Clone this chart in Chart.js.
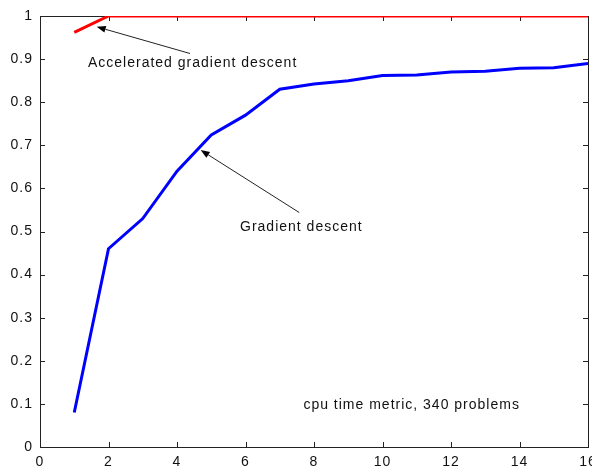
<!DOCTYPE html>
<html>
<head>
<meta charset="utf-8">
<script src="https://cdn.jsdelivr.net/npm/chart.js@4.4.0/dist/chart.umd.min.js"></script>
<style>
  html, body { margin: 0; padding: 0; background: #fff; }
  canvas { display: block; }
</style>
</head>
<body>
<canvas id="perfChart" width="592" height="470"></canvas>
<script>
// performance profile data
const gdX = [1, 2, 3, 4, 5, 6, 7, 8, 9, 10, 11, 12, 13, 14, 15, 16];
const gdY = [0.08, 0.46, 0.53, 0.64, 0.724, 0.77, 0.83, 0.842, 0.85, 0.862, 0.863, 0.87, 0.872, 0.879, 0.88, 0.89];
const agdX = [1, 2, 16];
const agdY = [0.962, 1, 1];

const xTicks = [0, 2, 4, 6, 8, 10, 12, 14, 16];
const yTicks = [0, 0.1, 0.2, 0.3, 0.4, 0.5, 0.6, 0.7, 0.8, 0.9, 1];
const yTickLabels = ["0", "0.1", "0.2", "0.3", "0.4", "0.5", "0.6", "0.7", "0.8", "0.9", "1"];

const labelFont = '14px "Liberation Sans", Arial, sans-serif';

// text + arrows, in data units
const notes = [
  { text: "Accelerated gradient descent", x: 1.40, y: 0.891, from: [4.38, 0.913], to: [1.655, 0.975] },
  { text: "Gradient descent", x: 5.84, y: 0.511, from: [7.57, 0.544], to: [4.69, 0.689] },
  { text: "cpu time metric, 340 problems", x: 7.69, y: 0.0975 }
];

function pts(xs, ys) {
  return xs.map((x, i) => ({ x: x, y: ys[i] }));
}

const matlabBox = {
  id: 'matlabBox',
  beforeDraw(chart) {
    chart.ctx.letterSpacing = '1px';
  },
  beforeDatasetsDraw(chart) {
    const { ctx, chartArea: a, scales } = chart;
    ctx.save();
    ctx.strokeStyle = '#222';
    ctx.lineWidth = 1;
    ctx.strokeRect(a.left + 0.5, a.top + 0.5, a.right - a.left, a.bottom - a.top);
    ctx.beginPath();
    xTicks.forEach(v => {
      const px = Math.round(scales.x.getPixelForValue(v)) + 0.5;
      ctx.moveTo(px, a.bottom); ctx.lineTo(px, a.bottom - 5);
      ctx.moveTo(px, a.top); ctx.lineTo(px, a.top + 5);
    });
    yTicks.forEach(v => {
      const py = Math.round(scales.y.getPixelForValue(v)) + 0.5;
      ctx.moveTo(a.left, py); ctx.lineTo(a.left + 5, py);
      ctx.moveTo(a.right, py); ctx.lineTo(a.right - 5, py);
    });
    ctx.stroke();
    ctx.restore();
  },
  afterDatasetsDraw(chart) {
    const { ctx, scales } = chart;
    const sx = v => scales.x.getPixelForValue(v);
    const sy = v => scales.y.getPixelForValue(v);
    ctx.save();
    ctx.font = labelFont;
    ctx.fillStyle = '#111';
    ctx.textBaseline = 'middle';
    ctx.textAlign = 'left';
    notes.forEach(n => {
      ctx.fillText(n.text, sx(n.x), sy(n.y));
      if (!n.from) return;
      const x0 = sx(n.from[0]), y0 = sy(n.from[1]);
      const x1 = sx(n.to[0]), y1 = sy(n.to[1]);
      const ang = Math.atan2(y1 - y0, x1 - x0);
      const len = 9, half = 3.5;
      const bx = x1 - len * Math.cos(ang), by = y1 - len * Math.sin(ang);
      ctx.strokeStyle = '#222';
      ctx.lineWidth = 1;
      ctx.beginPath();
      ctx.moveTo(x0, y0);
      ctx.lineTo(bx, by);
      ctx.stroke();
      ctx.fillStyle = '#000';
      ctx.beginPath();
      ctx.moveTo(x1, y1);
      ctx.lineTo(bx + half * Math.sin(ang), by - half * Math.cos(ang));
      ctx.lineTo(bx - half * Math.sin(ang), by + half * Math.cos(ang));
      ctx.closePath();
      ctx.fill();
      ctx.fillStyle = '#111';
    });
    ctx.restore();
  }
};

new Chart(document.getElementById('perfChart').getContext('2d'), {
  type: 'line',
  data: {
    datasets: [
      {
        label: 'Accelerated gradient descent',
        data: pts(agdX, agdY),
        borderColor: '#ff0000',
        borderWidth: 3,
        pointRadius: 0,
        tension: 0
      },
      {
        label: 'Gradient descent',
        data: pts(gdX, gdY),
        borderColor: '#0000ff',
        borderWidth: 3,
        pointRadius: 0,
        tension: 0
      }
    ]
  },
  options: {
    responsive: false,
    animation: false,
    layout: { padding: { top: 16, right: 4, left: 0, bottom: 0 } },
    plugins: {
      legend: { display: false },
      tooltip: { enabled: false }
    },
    scales: {
      x: {
        type: 'linear',
        min: 0,
        max: 16,
        grid: { display: false, drawTicks: false },
        border: { display: false },
        afterBuildTicks(scale) { scale.ticks = xTicks.map(v => ({ value: v })); },
        ticks: {
          padding: 7,
          color: '#111',
          font: { family: '"Liberation Sans", Arial, sans-serif', size: 14 },
          maxRotation: 0,
          autoSkip: false,
          callback: v => String(v)
        },
        afterFit(scale) {
          scale.height = 23;
          scale.paddingLeft = 0;
          scale.paddingRight = 0;
        }
      },
      y: {
        min: 0,
        max: 1,
        grid: { display: false, drawTicks: false },
        border: { display: false },
        afterBuildTicks(scale) { scale.ticks = yTicks.map(v => ({ value: v })); },
        ticks: {
          padding: 7,
          color: '#111',
          font: { family: '"Liberation Sans", Arial, sans-serif', size: 14 },
          autoSkip: false,
          callback: (v, i) => yTickLabels[i]
        },
        afterFit(scale) {
          scale.width = 40;
          scale.paddingTop = 0;
          scale.paddingBottom = 0;
        }
      }
    }
  },
  plugins: [matlabBox]
});
</script>
</body>
</html>
